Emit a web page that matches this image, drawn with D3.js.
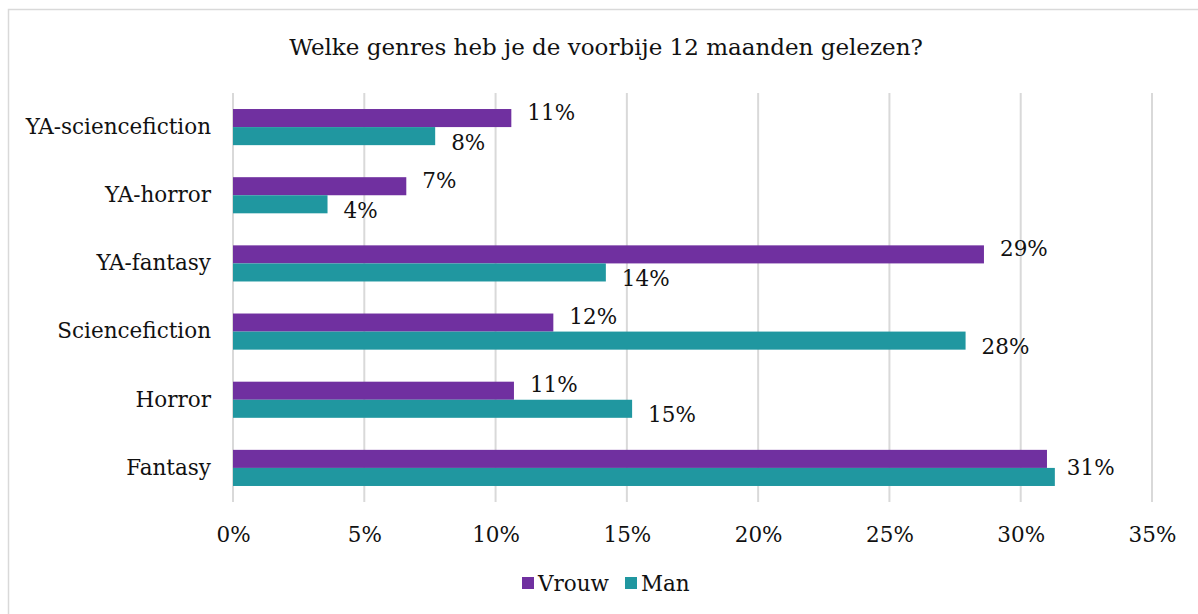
<!DOCTYPE html>
<html>
<head>
<meta charset="utf-8">
<script src="https://cdn.jsdelivr.net/npm/d3@7"></script>
<style>
  body { margin: 0; background: #fff; }
  svg { display: block; }
  text { font-family: Georgia, "DejaVu Serif", serif; fill: #111; }
</style>
</head>
<body>
<div id="chart"></div>
<script>
// top-to-bottom order as drawn
const categories = ["YA-sciencefiction", "YA-horror", "YA-fantasy", "Sciencefiction", "Horror", "Fantasy"];
const vrouw = [10.6, 6.6, 28.6, 12.2, 10.7, 31.0];
const man = [7.7, 3.6, 14.2, 27.9, 15.2, 31.3];
const x_ticks = [0, 5, 10, 15, 20, 25, 30, 35];
const series = [
  { name: "Vrouw", values: vrouw, color: "#7030a0" },
  { name: "Man", values: man, color: "#2097a0" },
];

const width = 1198, height = 614;
const plot = { left: 233, right: 1152, top: 93, bottom: 502 };
const font_size = 21.5;

const svg = d3.select("#chart").append("svg")
  .attr("width", width)
  .attr("height", height);

svg.append("rect")
  .attr("x", 8.5).attr("y", 9.5)
  .attr("width", width).attr("height", height)
  .attr("fill", "none")
  .attr("stroke", "#d9d9d9")
  .attr("stroke-width", 1.5);

svg.append("text")
  .attr("x", 606).attr("y", 47)
  .attr("text-anchor", "middle")
  .attr("dominant-baseline", "central")
  .attr("font-size", 23)
  .text("Welke genres heb je de voorbije 12 maanden gelezen?");

const X = d3.scaleLinear().domain([0, 35]).range([plot.left, plot.right]);
const Y = d3.scaleBand().domain(categories).range([plot.top, plot.bottom]).paddingInner(0.47).paddingOuter(0.235);
const Sub = d3.scaleBand().domain(series.map((s) => s.name)).range([0, Y.bandwidth()]);

// gridlines
svg.append("g")
  .selectAll("line")
  .data(x_ticks)
  .join("line")
  .attr("x1", (d) => X(d)).attr("x2", (d) => X(d))
  .attr("y1", plot.top).attr("y2", plot.bottom)
  .attr("stroke", "#d9d9d9")
  .attr("stroke-width", 2);

// x axis labels
const x_axis = svg.append("g")
  .attr("transform", `translate(0, ${plot.bottom})`)
  .call(d3.axisBottom(X).tickValues(x_ticks).tickFormat((d) => d + "%").tickSize(0).tickPadding(25));
x_axis.select(".domain").remove();
x_axis.selectAll("text").attr("font-size", font_size).attr("font-family", null).attr("fill", "#111");

// category labels
const y_axis = svg.append("g")
  .attr("transform", `translate(${plot.left}, 0)`)
  .call(d3.axisLeft(Y).tickSize(0).tickPadding(22));
y_axis.select(".domain").remove();
y_axis.selectAll("text").attr("font-size", font_size).attr("font-family", null).attr("fill", "#111");

// bars
series.forEach((s) => {
  svg.append("g")
    .selectAll("rect")
    .data(s.values)
    .join("rect")
    .attr("x", X(0))
    .attr("y", (d, i) => Y(categories[i]) + Sub(s.name))
    .attr("width", (d) => X(d) - X(0))
    .attr("height", Sub.bandwidth())
    .attr("fill", s.color);
});

// data labels; labels that would collide with the other series' label are merged
const labels = [];
categories.forEach((c, i) => {
  const a = Math.round(vrouw[i]), b = Math.round(man[i]);
  const ya = Y(c) + Sub("Vrouw") + Sub.bandwidth() / 2;
  const yb = Y(c) + Sub("Man") + Sub.bandwidth() / 2;
  if (a === b && Math.abs(X(vrouw[i]) - X(man[i])) < 30) {
    labels.push({ x: X(Math.max(vrouw[i], man[i])) + 12, y: Y(c) + Y.bandwidth() / 2, text: b + "%" });
  } else {
    labels.push({ x: X(vrouw[i]) + 16, y: ya - 6, text: a + "%" });
    labels.push({ x: X(man[i]) + 16, y: yb + 6, text: b + "%" });
  }
});
svg.append("g")
  .selectAll("text")
  .data(labels)
  .join("text")
  .attr("x", (d) => d.x)
  .attr("y", (d) => d.y)
  .attr("dominant-baseline", "central")
  .attr("font-size", font_size)
  .text((d) => d.text);

// legend
const legend = svg.append("g").attr("transform", "translate(522, 583)");
let lx = 0;
series.forEach((s) => {
  const item = legend.append("g").attr("transform", `translate(${lx}, 0)`);
  item.append("rect").attr("x", 0).attr("y", -6).attr("width", 12).attr("height", 12).attr("fill", s.color);
  const t = item.append("text").attr("x", 16).attr("y", 0)
    .attr("dominant-baseline", "central").attr("font-size", font_size).text(s.name);
  lx += 16 + t.node().getComputedTextLength() + 16;
});
</script>
</body>
</html>
